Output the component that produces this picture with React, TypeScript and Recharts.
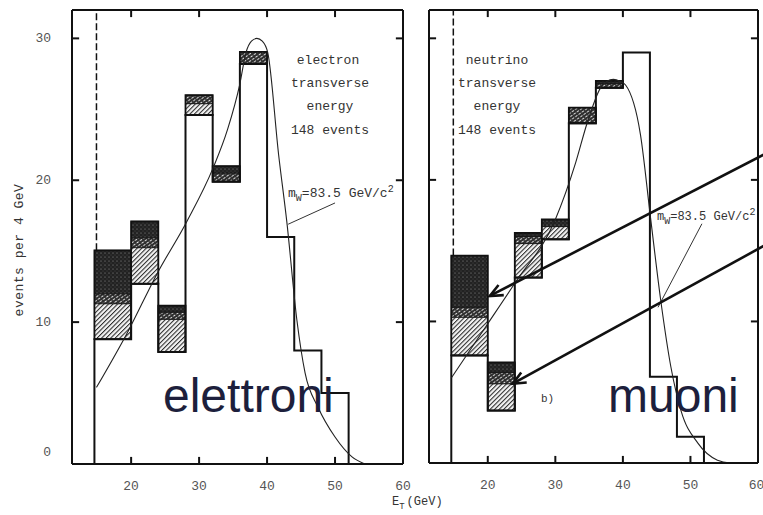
import { ComposedChart, Line, XAxis, YAxis, ReferenceArea, ReferenceLine } from 'recharts';

// bin edges in GeV (4 GeV bins, first starts at the cut)
const binEdges = [14.6, 20, 24, 28, 32, 36, 40, 44, 48, 52];
const etCut = 14.9;
const xMin = 11.3;
const xMax = 60;
const yMax = 32;
const xTicks = [20, 30, 40, 50, 60];
const yTicks = [0, 10, 20, 30];
const frameXTicks = [20, 30, 40, 50];
const frameYTicks = [10, 20, 30];

// electron panel
const eCounts = [8.8, 12.7, 7.9, 24.6, 19.9, 28.2, 16.0, 8.0, 5.0];
const eHatchTop = [11.3, 15.25, 10.2, 25.4, 19.9, 28.2, null, null, null];
const eStripeTop = [12.0, 15.95, 10.7, 26.0, 20.5, 29.05, null, null, null];
const eDarkTop = [15.06, 17.1, 11.16, 26.0, 21.0, 29.05, null, null, null];
const eFitX = [14.9, 19.6, 23.8, 28.2, 32.0, 34.2, 36.0, 36.9, 37.7, 38.5, 39.3, 40.1, 41.7, 42.9, 44.4, 45.6, 47.5, 50.0, 52.5, 54.4];
const eFitY = [5.4, 9.4, 13.4, 17.1, 20.8, 23.6, 26.8, 29.0, 29.8, 30.0, 29.8, 29.0, 21.8, 17.1, 10.1, 6.4, 4.0, 1.9, 0.5, 0];
const ePointer = [{ x: 50.0, y: 18.4 }, { x: 43.1, y: 16.9 }];

// neutrino (muon) panel
const nCounts = [7.6, 3.7, 13.1, 15.8, 24.0, 26.5, 29.0, 6.1, 1.85];
const nHatchTop = [10.3, 5.6, 15.5, 16.7, 24.0, 26.5, null, null, null];
const nStripeTop = [11.0, 6.4, 16.0, 16.7, 25.1, 26.8, null, null, null];
const nDarkTop = [14.65, 7.1, 16.25, 17.2, 25.1, 27.0, null, null, null];
const nFitX = [14.6, 19.8, 24.0, 30.0, 33.0, 34.7, 36.7, 37.6, 38.6, 39.6, 40.4, 42.6, 44.1, 45.6, 47.1, 48.6, 51.1, 54.0, 56.0];
const nFitY = [6.0, 9.7, 12.7, 17.2, 21.2, 24.0, 26.5, 26.95, 27.1, 26.95, 26.7, 23.2, 17.3, 11.5, 6.8, 3.7, 1.4, 0.2, 0];
const nPointer = [{ x: 51.7, y: 16.9 }, { x: 45.2, y: 11.0 }];
const arrows = [
  [{ x: 60.9, y: 21.8 }, { x: 20.3, y: 11.8 }],
  [{ x: 60.9, y: 15.35 }, { x: 23.7, y: 5.6 }],
];

const INK = '#111';
const monoFont = '"Liberation Mono", "DejaVu Sans Mono", monospace';
// inward tick length, in data units (about 7px)
const TICK_DX = 1.05;
const TICK_DY = 0.5;

const outline = (counts: number[]) => [
  { x: binEdges[0], y: 0 },
  ...counts.map((c, i) => ({ x: binEdges[i], y: c })),
  { x: binEdges[binEdges.length - 1], y: 0 },
];

const zip = (xs: number[], ys: number[]) => xs.map((x, i) => ({ x, y: ys[i] }));

function Patterns({ id }: { id: string }) {
  return (
    <defs>
      <pattern id={`${id}-hatch`} width="3.2" height="3.2" patternUnits="userSpaceOnUse" patternTransform="rotate(45)">
        <rect width="3.2" height="3.2" fill="#f4f4f4" />
        <line x1="0" y1="0" x2="0" y2="3.2" stroke="#2a2a2a" strokeWidth="2.1" />
      </pattern>
      <pattern id={`${id}-stripe`} width="4" height="3" patternUnits="userSpaceOnUse" patternTransform="rotate(-35)">
        <rect width="4" height="3" fill="#2e2e2e" />
        <rect x="0.5" y="1" width="2.4" height="1" fill="#e6e6e6" />
      </pattern>
      <pattern id={`${id}-dark`} width="4" height="4" patternUnits="userSpaceOnUse">
        <rect width="4" height="4" fill="#222" />
        <circle cx="1" cy="1" r="0.55" fill="#999" />
        <circle cx="3" cy="3" r="0.45" fill="#6a6a6a" />
      </pattern>
    </defs>
  );
}

function boxes(id: string, counts: number[], hatch: (number | null)[], stripe: (number | null)[], dark: (number | null)[]) {
  const out: any[] = [];
  counts.forEach((base, i) => {
    const top = dark[i];
    if (top == null) return;
    const layers: [number, number, string][] = [
      [base, hatch[i] as number, `url(#${id}-hatch)`],
      [hatch[i] as number, stripe[i] as number, `url(#${id}-stripe)`],
      [stripe[i] as number, top, `url(#${id}-dark)`],
    ];
    layers.forEach(([y1, y2, fill], j) => {
      if (y2 - y1 < 0.05) return;
      out.push(
        <ReferenceArea
          key={`${id}-b${i}-${j}`}
          x1={binEdges[i]}
          x2={binEdges[i + 1]}
          y1={y1}
          y2={y2}
          fill={fill}
          fillOpacity={1}
          stroke={INK}
          strokeWidth={0.8}
          ifOverflow="visible"
        />
      );
    });
    out.push(
      <ReferenceArea
        key={`${id}-b${i}-frame`}
        x1={binEdges[i]}
        x2={binEdges[i + 1]}
        y1={base}
        y2={top}
        fill="none"
        stroke={INK}
        strokeWidth={1.8}
        ifOverflow="visible"
      />
    );
  });
  return out;
}

// inward ticks on all four sides of the frame
function frameTicks(id: string) {
  const segs: { x: number; y: number }[][] = [];
  frameXTicks.forEach((t) => {
    segs.push([{ x: t, y: 0 }, { x: t, y: TICK_DY }]);
    segs.push([{ x: t, y: yMax }, { x: t, y: yMax - TICK_DY }]);
  });
  frameYTicks.forEach((t) => {
    segs.push([{ x: xMin, y: t }, { x: xMin + TICK_DX, y: t }]);
    segs.push([{ x: xMax, y: t }, { x: xMax - TICK_DX, y: t }]);
  });
  return segs.map((s, i) => (
    <ReferenceLine key={`${id}-t${i}`} segment={s} stroke={INK} strokeWidth={2} ifOverflow="visible" />
  ));
}

const ArrowShape = (p: any) => {
  const { x1, y1, x2, y2 } = p;
  const a = Math.atan2(y2 - y1, x2 - x1);
  const L = 14;
  const w = 0.42;
  return (
    <g>
      <line x1={x1} y1={y1} x2={x2} y2={y2} stroke={INK} strokeWidth={2.6} />
      <polyline
        points={`${x2 - L * Math.cos(a - w)},${y2 - L * Math.sin(a - w)} ${x2},${y2} ${x2 - L * Math.cos(a + w)},${y2 - L * Math.sin(a + w)}`}
        fill="none"
        stroke={INK}
        strokeWidth={2.6}
      />
    </g>
  );
};

// y tick label; the "0" sits a little above the frame in the original
const YTick = (p: any) => {
  const { x, y, payload } = p;
  return (
    <text
      x={x}
      y={payload.value === 0 ? y - 12 : y}
      textAnchor="end"
      dominantBaseline="central"
      fontSize={13}
      fill="#555"
      fontFamily={monoFont}
    >
      {payload.value}
    </text>
  );
};

interface PanelProps {
  id: string;
  width: number;
  margin: { top: number; right: number; bottom: number; left: number };
  yWidth: number;
  yLabels: boolean;
  counts: number[];
  hatch: (number | null)[];
  stripe: (number | null)[];
  dark: (number | null)[];
  fit: { x: number; y: number }[];
  pointer: { x: number; y: number }[];
  withArrows?: boolean;
}

function Panel(props: PanelProps) {
  const { id, width, margin, yWidth, yLabels, counts, hatch, stripe, dark, fit, pointer, withArrows } = props;
  const tickStyle = { fontSize: 13, fill: '#555', fontFamily: monoFont };
  const axisLine = { stroke: INK, strokeWidth: 2 };
  const blank = () => '';
  return (
    <ComposedChart width={width} height={515} margin={margin}>
      <Patterns id={id} />
      <XAxis
        dataKey="x"
        type="number"
        domain={[xMin, xMax]}
        ticks={xTicks}
        allowDataOverflow
        height={30}
        tickLine={false}
        tickMargin={11}
        tick={tickStyle}
        axisLine={axisLine}
      />
      <XAxis
        xAxisId="top"
        orientation="top"
        dataKey="x"
        type="number"
        domain={[xMin, xMax]}
        allowDataOverflow
        height={1}
        tick={false}
        tickLine={false}
        axisLine={axisLine}
      />
      <YAxis
        type="number"
        domain={[0, yMax]}
        ticks={yTicks}
        allowDataOverflow
        width={yWidth}
        tickLine={false}
        tickMargin={15}
        tick={yLabels ? YTick : false}
        tickFormatter={yLabels ? undefined : blank}
        axisLine={axisLine}
      />
      <YAxis
        yAxisId="r"
        orientation="right"
        type="number"
        domain={[0, yMax]}
        width={1}
        tick={false}
        tickLine={false}
        axisLine={axisLine}
      />
      {frameTicks(id)}
      <ReferenceLine
        segment={[{ x: etCut, y: dark[0] as number }, { x: etCut, y: yMax }]}
        stroke={INK}
        strokeWidth={1.5}
        strokeDasharray="7 3"
      />
      {boxes(id, counts, hatch, stripe, dark)}
      <Line
        data={outline(counts)}
        dataKey="y"
        type="stepAfter"
        stroke={INK}
        strokeWidth={2}
        dot={false}
        isAnimationActive={false}
      />
      <Line
        data={fit}
        dataKey="y"
        type="monotone"
        stroke="#222"
        strokeWidth={1.1}
        dot={false}
        isAnimationActive={false}
      />
      <ReferenceLine segment={pointer} stroke="#333" strokeWidth={1} ifOverflow="visible" />
      {withArrows &&
        arrows.map((seg, i) => (
          <ReferenceLine key={`arrow${i}`} segment={seg} ifOverflow="visible" shape={ArrowShape} />
        ))}
    </ComposedChart>
  );
}

export default function App() {
  const labelStyle = { fontFamily: monoFont, fill: '#333' };
  return (
    <div style={{ position: 'absolute', left: 0, top: 0, width: 763, height: 515, background: '#fff', overflow: 'hidden' }}>
      <div style={{ position: 'absolute', left: 0, top: 0 }}>
        <Panel
          id="el"
          width={416}
          margin={{ top: 9, right: 12, bottom: 21, left: 0 }}
          yWidth={72}
          yLabels
          counts={eCounts}
          hatch={eHatchTop}
          stripe={eStripeTop}
          dark={eDarkTop}
          fit={zip(eFitX, eFitY)}
          pointer={ePointer}
        />
      </div>
      <div style={{ position: 'absolute', left: 410, top: 0 }}>
        <Panel
          id="nu"
          width={353}
          margin={{ top: 9, right: 4, bottom: 22, left: 0 }}
          yWidth={19}
          yLabels={false}
          counts={nCounts}
          hatch={nHatchTop}
          stripe={nStripeTop}
          dark={nDarkTop}
          fit={zip(nFitX, nFitY)}
          pointer={nPointer}
          withArrows
        />
      </div>
      <svg width={763} height={515} style={{ position: 'absolute', left: 0, top: 0, pointerEvents: 'none' }}>
        <text x={20} y={250} transform="rotate(-90 20 250)" textAnchor="middle" dominantBaseline="middle" fontSize={13} letterSpacing={0.5} {...labelStyle}>
          events per 4 GeV
        </text>
        <text x={392} y={505} fontSize={12} {...labelStyle}>
          E<tspan fontSize={9} dy={4}>T</tspan>
          <tspan dy={-4} dx={2}>(GeV)</tspan>
        </text>
        <g fontSize={13} textAnchor="middle" {...labelStyle}>
          <text x={328} y={64}>electron</text>
          <text x={330} y={87}>transverse</text>
          <text x={330} y={110}>energy</text>
          <text x={330} y={134}>148 events</text>
          <text x={497} y={64}>neutrino</text>
          <text x={497} y={87}>transverse</text>
          <text x={497} y={110}>energy</text>
          <text x={497} y={134}>148 events</text>
        </g>
        <text x={288} y={197} fontSize={13} {...labelStyle}>
          m<tspan fontSize={10} dy={4}>W</tspan>
          <tspan dy={-4}>=83.5  GeV/c</tspan>
          <tspan fontSize={10} dy={-5}>2</tspan>
        </text>
        <text x={657} y={220} fontSize={12} {...labelStyle}>
          m<tspan fontSize={10} dy={4}>W</tspan>
          <tspan dy={-4}>=83.5 GeV/c</tspan>
          <tspan fontSize={10} dy={-5}>2</tspan>
        </text>
        <text x={541} y={402} fontSize={11} {...labelStyle}>b)</text>
        <g fontFamily='"Liberation Sans", Arial, sans-serif' fontSize={48} fill="#1d1f3c">
          <text x={163} y={412}>elettroni</text>
          <text x={608} y={412}>muoni</text>
        </g>
      </svg>
    </div>
  );
}
